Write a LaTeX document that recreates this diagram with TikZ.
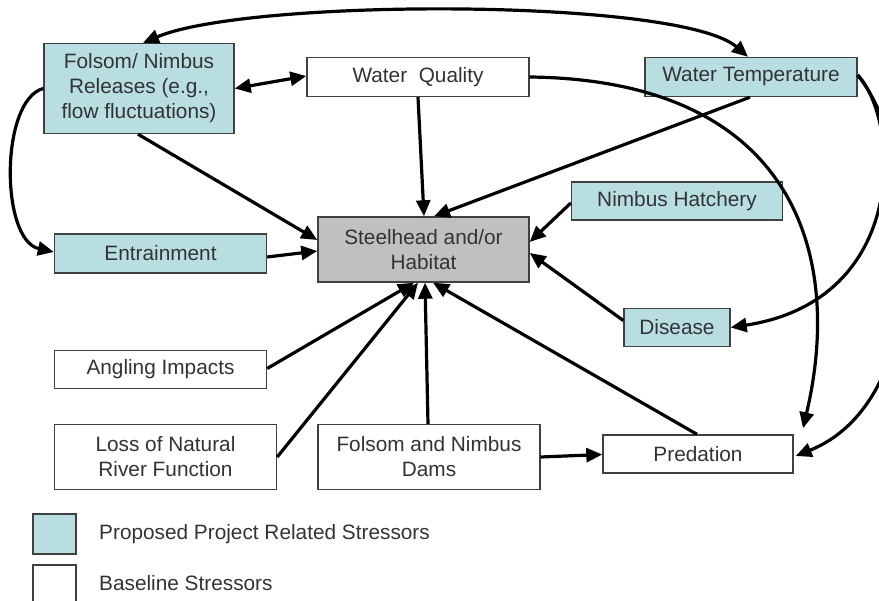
\documentclass[tikz,border=0pt]{standalone}
\usepackage{fontspec}
\setmainfont{Liberation Sans}
\usetikzlibrary{arrows.meta}
\definecolor{teal1}{HTML}{B8DEE1}
\definecolor{gray1}{HTML}{C0C0C0}
\definecolor{txt}{HTML}{333333}
\definecolor{bord}{HTML}{404040}
\tikzset{
  box/.style={draw=bord, line width=1.4pt, text=txt, align=center, inner sep=0pt,
    font=\fontsize{20.8}{25}\selectfont},
  proj/.style={box, fill=teal1},
  base/.style={box, fill=white},
  hab/.style={box, fill=gray1},
  conn/.style={line width=3.2pt, -{Triangle[length=16pt,width=14pt]}},
  dconn/.style={line width=3.2pt, {Triangle[length=16pt,width=14pt]}-{Triangle[length=16pt,width=14pt]}},
  legtext/.style={text=txt, anchor=west, inner sep=0pt, font=\fontsize{20.8}{25}\selectfont}
}
\begin{document}
\begin{tikzpicture}[x=1pt,y=-1pt]
\useasboundingbox (0,0) rectangle (879,601);
\clip (0,0) rectangle (879,601);
\fill[white] (0,0) rectangle (879,601);
% nodes
\node[proj, minimum width=190pt, minimum height=90pt] (fol) at (139,88.5) {Folsom/ Nimbus\\Releases (e.g.,\\flow fluctuations)};
\node[base, minimum width=222pt, minimum height=39pt] (wq) at (418,77) {Water\ \ Quality};
\node[proj, minimum width=212pt, minimum height=39pt] (wt) at (751,77) {Water Temperature};
\node[proj, minimum width=211pt, minimum height=38pt] (nh) at (677,201) {Nimbus Hatchery};
\node[hab, minimum width=211pt, minimum height=65pt] (sh) at (423.5,249.5) {Steelhead and/or\\Habitat};
\node[proj, minimum width=212pt, minimum height=39pt] (ent) at (160.5,253.5) {Entrainment};
\node[proj, minimum width=106pt, minimum height=38pt] (dis) at (677,327.5) {Disease};
\node[base, minimum width=212pt, minimum height=38pt] (ang) at (160.5,369.5) {Angling Impacts};
\node[base, minimum width=222pt, minimum height=65pt] (loss) at (165.5,457) {Loss of Natural\\River Function};
\node[base, minimum width=222pt, minimum height=65pt] (dams) at (429,457) {Folsom and Nimbus\\Dams};
\node[base, minimum width=190pt, minimum height=38pt] (pred) at (698,454) {Predation};
% legend
\node[proj, minimum width=43pt, minimum height=40pt] (lg1) at (54.5,534) {};
\node[base, minimum width=43pt, minimum height=40pt] (lg2) at (54.5,585) {};
\node[legtext] (lt1) at (99,534) {Proposed Project Related Stressors};
\node[legtext] (lt2) at (99,583) {Baseline Stressors};
% connectors
\draw[dconn] ([xshift=4pt]fol.north) .. controls (250,-2) and (680,-2) .. ([xshift=-3pt]wt.north);
\draw[dconn] (fol.east) -- ([yshift=1pt]wq.west);
\draw[conn] (fol.west) .. controls (0,100) and (0,240) .. ([yshift=1.5pt]ent.west);
\draw[conn] ([xshift=-1pt]fol.south) -- ([yshift=9.5pt]sh.west);
\draw[conn] ([yshift=-3.5pt]ent.east) -- ([yshift=-1.5pt]sh.west);
\draw[conn] (wq.south) -- ([xshift=0.5pt]sh.north);
\draw[conn] ([xshift=-1pt]wt.south) -- ([xshift=10.5pt]sh.north);
\draw[conn] ([yshift=-2pt]nh.west) -- ([yshift=7.5pt]sh.east);
\draw[conn] ([yshift=7pt]dis.west) -- ([yshift=-3.5pt]sh.east);
\draw[conn] ([yshift=1pt]ang.east) -- ([xshift=-9.5pt]sh.south);
\draw[conn] (loss.east) -- ([xshift=-5.5pt]sh.south);
\draw[conn] ([xshift=-1pt]dams.north) -- ([xshift=1.5pt]sh.south);
\draw[conn] ([xshift=-1pt]pred.north) -- ([xshift=9.5pt]sh.south);
\draw[conn] (dams.east) -- ([yshift=-0.5pt]pred.west);
\draw[conn] (wq.east) .. controls (790,80) and (845,250) .. ([xshift=105pt,yshift=6pt]pred.north);
\draw[conn] ([yshift=2pt]wt.east) .. controls (900,120) and (910,300) .. (dis.east);
\draw[conn] ([yshift=2pt]wt.east) .. controls (925,160) and (935,400) .. ([xshift=2pt,yshift=-2pt]pred.east);
\end{tikzpicture}
\end{document}
